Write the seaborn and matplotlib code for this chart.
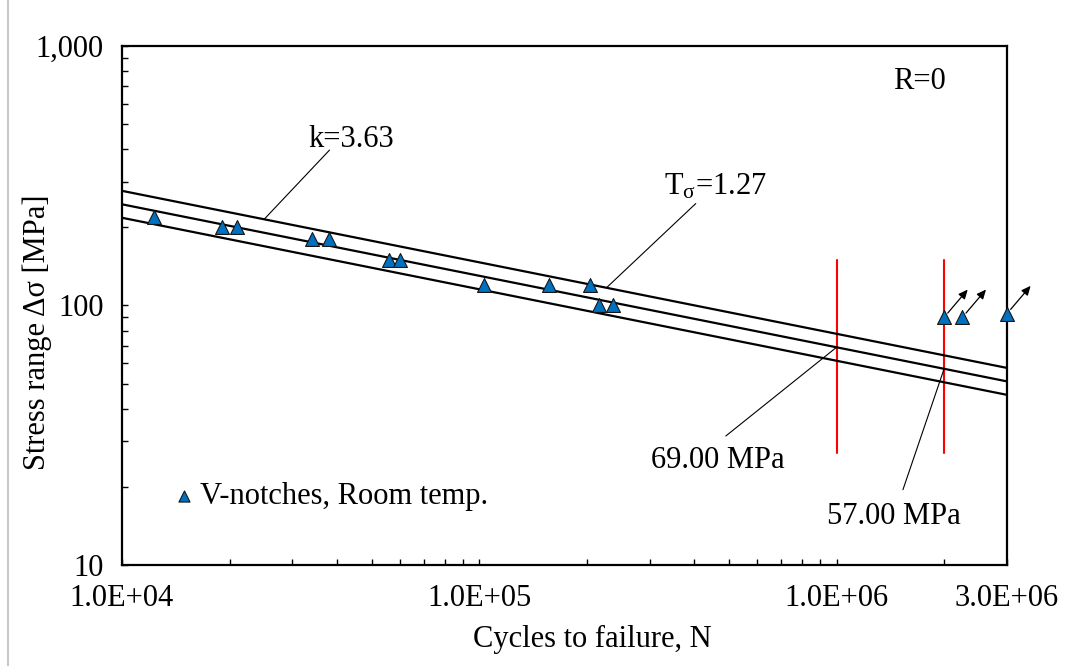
import numpy as np
import pandas as pd
import matplotlib
matplotlib.use("Agg")
import matplotlib.pyplot as plt
from matplotlib.lines import Line2D
from matplotlib.ticker import FixedLocator, FixedFormatter, LogLocator, NullFormatter
import seaborn as sns

# Fatigue tests, V-notched specimens at room temperature (R = 0)
cycles = [12300, 19000, 21000, 34000, 38000, 56000, 60000, 103000, 157000, 204000, 216000, 237000]
stress = [220, 200, 200, 180, 180, 150, 150, 120, 120, 120, 100, 100]

# Run-outs (specimens that did not fail)
runout_cycles = [2.0e6, 2.25e6, 3.0e6]
runout_stress = [90, 90, 93]

# S-N curve: inverse slope and scatter band
slope_k = 3.63
scatter_t = 1.27
ref_cycles = [1.0e6, 2.0e6]
ref_stress = [69.00, 57.00]

# Vertical markers at the reference cycle counts
marker_range = [27, 150]

x_ticks = [1e4, 1e5, 1e6, 3e6]
x_tick_labels = ["1.0E+04", "1.0E+05", "1.0E+06", "3.0E+06"]
y_ticks = [10, 100, 1000]
y_tick_labels = ["10", "100", "1,000"]

FS = 22
BLUE = "#0070C0"

sns.set_theme(style="white")
plt.rcParams["font.family"] = ["Liberation Serif", "DejaVu Serif"]
plt.rcParams["mathtext.fontset"] = "custom"
plt.rcParams["mathtext.rm"] = "Liberation Serif"
plt.rcParams["mathtext.it"] = "Liberation Serif"
for key in ["text.color", "axes.labelcolor", "xtick.color", "ytick.color"]:
    plt.rcParams[key] = "black"


def sn_mean(n):
    return ref_stress[0] * (np.asarray(n, dtype=float) / ref_cycles[0]) ** (-1.0 / slope_k)


band = np.sqrt(scatter_t)

fig = plt.figure(figsize=(10.68, 6.66), dpi=100)
ax = fig.add_axes([0.1142, 0.1517, 0.8287, 0.7793])
ax.set_xscale("log")
ax.set_yscale("log")

# Mean curve and scatter band limits
n_curve = np.logspace(4, np.log10(3e6), 60)
curves = pd.DataFrame({
    "N": np.tile(n_curve, 3),
    "S": np.concatenate([sn_mean(n_curve) * band, sn_mean(n_curve), sn_mean(n_curve) / band]),
    "curve": np.repeat(["upper", "mean", "lower"], len(n_curve)),
})
sns.lineplot(data=curves, x="N", y="S", units="curve", estimator=None, color="black",
             linewidth=1.6, ax=ax, legend=False, zorder=3)

# Red markers at 1E+06 and 2E+06 cycles
for n in ref_cycles:
    ax.plot([n, n], marker_range, color="#FF0000", linewidth=1.5, zorder=2)

# Test points
tests = pd.DataFrame({"N": cycles + runout_cycles, "S": stress + runout_stress})
sns.scatterplot(data=tests, x="N", y="S", marker="^", s=100, color=BLUE, edgecolor="#151515",
                linewidth=0.8, label="V-notches, Room temp.", ax=ax, zorder=5, clip_on=False)

# Run-out arrows
for n, s in zip(runout_cycles, runout_stress):
    ax.annotate("", xy=(n, s), xycoords="data", xytext=(17, 20), textcoords="offset points",
                arrowprops=dict(arrowstyle="<|-,head_length=0.55,head_width=0.25", mutation_scale=10,
                                color="black", lw=0.9, shrinkA=0, shrinkB=4),
                annotation_clip=False, zorder=6)


def leader(p_from, p_to):
    ax.annotate("", xy=p_from, xycoords="data", xytext=p_to, textcoords="data",
                arrowprops=dict(arrowstyle="-", color="black", lw=0.8, shrinkA=0, shrinkB=0),
                zorder=4)


n_k = 25000
leader((n_k, sn_mean(n_k) * band), (38100, 397))
ax.text(43900, 409, "k=3.63", fontsize=FS, ha="center", va="baseline")

n_t = 227000
leader((n_t, sn_mean(n_t) * band), (403600, 247))
ax.text(328400, 267, r"T$_{\mathrm{σ}}$=1.27", fontsize=FS, ha="left", va="baseline")

leader((ref_cycles[0], ref_stress[0]), (489800, 31.4))
ax.text(465000, 23.7, f"{ref_stress[0]:.2f} MPa", fontsize=FS, ha="center", va="baseline")

leader((ref_cycles[1], ref_stress[1]), (1.534e6, 19.5))
ax.text(1.447e6, 14.4, f"{ref_stress[1]:.2f} MPa", fontsize=FS, ha="center", va="baseline")

ax.text(0.9006, 0.9166, "R=0", fontsize=FS, ha="center", va="baseline", transform=ax.transAxes)

# Axes
ax.set_xlim(1e4, 3e6)
ax.set_ylim(10, 1000)
ax.xaxis.set_major_locator(FixedLocator(x_ticks))
ax.xaxis.set_major_formatter(FixedFormatter(x_tick_labels))
ax.xaxis.set_minor_locator(LogLocator(base=10, subs=np.arange(2, 10)))
ax.xaxis.set_minor_formatter(NullFormatter())
ax.yaxis.set_major_locator(FixedLocator(y_ticks))
ax.yaxis.set_major_formatter(FixedFormatter(y_tick_labels))
ax.yaxis.set_minor_locator(LogLocator(base=10, subs=np.arange(2, 10)))
ax.yaxis.set_minor_formatter(NullFormatter())
ax.tick_params(which="both", direction="in", length=4, width=1, color="black",
               bottom=True, left=True, top=False, right=False)
ax.tick_params(axis="x", which="major", labelsize=FS, pad=14)
ax.tick_params(axis="y", which="major", labelsize=FS, pad=13)

for sp in ax.spines.values():
    sp.set_visible(True)
    sp.set_color("black")
    sp.set_linewidth(1.6)

ax.set_xlabel("Cycles to failure, N", fontsize=FS)
ax.set_ylabel("Stress range Δσ [MPa]", fontsize=FS)
ax.xaxis.set_label_coords(0.531, -0.115)
ax.yaxis.set_label_coords(-0.079, 0.449)

ax.legend(loc="center left", bbox_to_anchor=(0.06, 0.131), frameon=False, fontsize=FS,
          handlelength=0.6, handletextpad=0.2, borderpad=0, borderaxespad=0, markerscale=0.8)

fig.add_artist(Line2D([8 / 1068, 8 / 1068], [0, 1], transform=fig.transFigure,
                      color="#c8c8c8", lw=1.5))

fig.savefig("out.png", dpi=100)
